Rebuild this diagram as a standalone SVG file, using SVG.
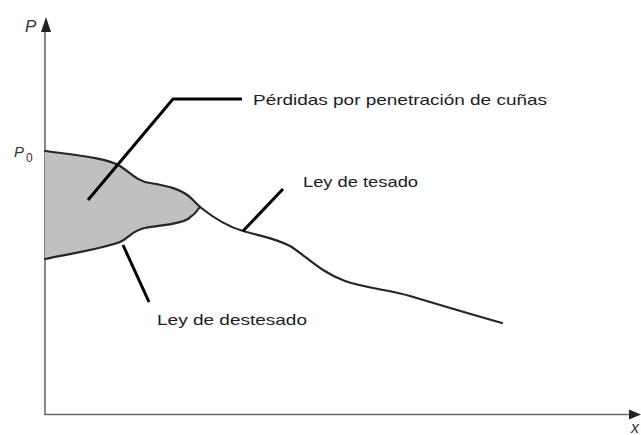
<svg xmlns="http://www.w3.org/2000/svg" width="641" height="435" viewBox="0 0 641 435">
<style>
.axis{stroke:#6a6a6a;stroke-width:1.6;fill:none}
.curve{stroke:#262626;stroke-width:2.2;fill:none;stroke-linejoin:round;stroke-linecap:round}
.lead{stroke:#000;stroke-width:3;fill:none;stroke-linejoin:miter}
.lbl{font-family:"Liberation Sans",Arial,sans-serif;font-size:14.5px;fill:#1c1c24}
.ax{font-family:"Liberation Sans",Arial,sans-serif;font-style:italic;fill:#333}
</style>
<rect width="641" height="435" fill="#fff"/>
<g id="axes">
<line class="axis" x1="45" y1="415" x2="45" y2="28"/>
<line class="axis" x1="44.2" y1="414.5" x2="632" y2="414.5"/>
<polygon points="46,17 41,32 51,32" fill="#222"/>
<polygon points="641,414.5 629,409.5 629,419.5" fill="#222"/>
<text class="ax" x="25" y="32" font-size="17">P</text>
<text class="ax" x="14" y="157" font-size="15">P</text>
<text x="26" y="162" font-family="Liberation Sans,Arial,sans-serif" font-size="12" fill="#333">0</text>
<text class="ax" x="631" y="433" font-size="16">x</text>
</g>
<g id="perdidas">
<path d="M45,151 C75,155 108,158 120,166 C132,174 137,181 150,183 C168,186 182,189 192,199 L200,207 C198,210 194,215 188,219 C178,225 160,225 145,228 C133,230 130,237 120,242 C105,248 75,253 45,259 Z" fill="#c0c0c0"/>
</g>
<g id="curves">
<path class="curve" d="M45,151 C75,155 108,158 120,166 C132,174 137,181 150,183 C168,186 182,189 192,199 L200,207"/>
<path class="curve" d="M45,259 C75,253 105,248 120,242 C130,237 133,230 145,228 C160,225 178,225 188,219 C194,215 198,210 200,207"/>
<path class="curve" d="M200,207 C210,215 225,226 243,231 C260,236 275,238 290,246 C305,255 320,272 345,281 C365,288 390,290 410,296 C440,305 470,314 502,323"/>
</g>
<g id="connectors">
<polyline class="lead" points="88,200 173,99 242,99"/>
<line class="lead" x1="243" y1="231" x2="283" y2="189"/>
<line class="lead" x1="123" y1="245" x2="149" y2="302"/>
</g>
<g id="label-perdidas">
<text class="lbl" x="253" y="105" textLength="294" lengthAdjust="spacingAndGlyphs">Pérdidas por penetración de cuñas</text>
</g>
<g id="label-tesado">
<text class="lbl" x="303" y="187" textLength="115" lengthAdjust="spacingAndGlyphs">Ley de tesado</text>
</g>
<g id="label-destesado">
<text class="lbl" x="157" y="325" textLength="150" lengthAdjust="spacingAndGlyphs">Ley de destesado</text>
</g>
</svg>
